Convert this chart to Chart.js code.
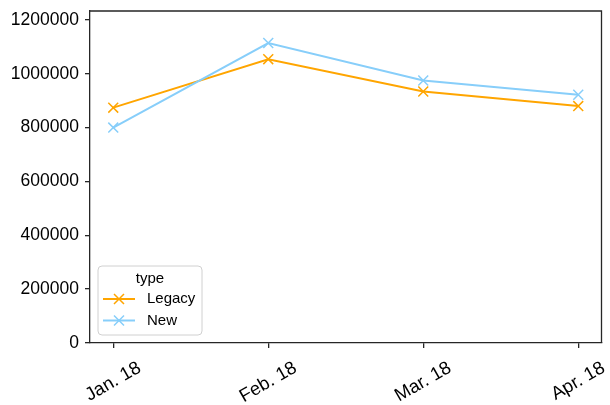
<!DOCTYPE html>
<html>
<head>
<meta charset="utf-8">
<script src="https://cdn.jsdelivr.net/npm/chart.js@4.4.1/dist/chart.umd.min.js"></script>
<style>
  html, body { margin: 0; padding: 0; background: #fff; }
  canvas { display: block; }
</style>
</head>
<body>
<canvas id="chart" width="610" height="405"></canvas>
<script>
// valeurs
const months = ['Jan. 18', 'Feb. 18', 'Mar. 18', 'Apr. 18'];
const legacy = [874000, 1054000, 934000, 880000];
const newType = [800000, 1114000, 975000, 922000];
const yTicks = [0, 200000, 400000, 600000, 800000, 1000000, 1200000];
const seriesNames = ['Legacy', 'New'];
const legendTitle = 'type';

const FONT = "'Liberation Sans', Arial, sans-serif";
const ORANGE = '#ffa500';
const BLUE = '#87cefa';
const SPINE = '#262626';

function toPoints(arr) {
    return arr.map(function(v, i) { return { x: i, y: v }; });
}

// cadre haut + droite (style matplotlib)
const framePlugin = {
    id: 'frame',
    afterDraw: function(chart) {
        const a = chart.chartArea;
        const ctx = chart.ctx;
        ctx.save();
        ctx.strokeStyle = SPINE;
        ctx.lineWidth = 1.3;
        ctx.beginPath();
        ctx.moveTo(a.left, a.top);
        ctx.lineTo(a.right, a.top);
        ctx.lineTo(a.right, a.bottom);
        ctx.stroke();
        ctx.restore();
    }
};

// étiquettes x tournées à 30°, centrées sur le tick
const xLabelPlugin = {
    id: 'xLabels',
    afterDraw: function(chart) {
        const ctx = chart.ctx;
        const xs = chart.scales.x;
        const size = 18.5;
        const ang = 30 * Math.PI / 180;
        ctx.save();
        ctx.font = size + 'px ' + FONT;
        ctx.fillStyle = '#000';
        ctx.textAlign = 'center';
        ctx.textBaseline = 'middle';
        months.forEach(function(label, i) {
            const w = ctx.measureText(label).width;
            const h = size * 0.95;
            const bh = w * Math.sin(ang) + h * Math.cos(ang);
            const cx = xs.getPixelForValue(i);
            const cy = chart.chartArea.bottom + 16 + bh / 2;
            ctx.save();
            ctx.translate(cx, cy);
            ctx.rotate(-ang);
            ctx.fillText(label, 0, 0);
            ctx.restore();
        });
        ctx.restore();
    }
};

function drawCross(ctx, x, y, r) {
    ctx.beginPath();
    ctx.moveTo(x - r, y - r); ctx.lineTo(x + r, y + r);
    ctx.moveTo(x - r, y + r); ctx.lineTo(x + r, y - r);
    ctx.stroke();
}

// légende dans le coin bas gauche
const legendPlugin = {
    id: 'legendBox',
    afterDraw: function(chart) {
        const ctx = chart.ctx;
        const a = chart.chartArea;
        const bw = 104, bh = 69;
        const bx = a.left + 8, by = a.bottom - 8 - bh;
        const r = 4;
        ctx.save();
        ctx.beginPath();
        ctx.moveTo(bx + r, by);
        ctx.arcTo(bx + bw, by, bx + bw, by + bh, r);
        ctx.arcTo(bx + bw, by + bh, bx, by + bh, r);
        ctx.arcTo(bx, by + bh, bx, by, r);
        ctx.arcTo(bx, by, bx + bw, by, r);
        ctx.closePath();
        ctx.fillStyle = 'rgba(255,255,255,0.8)';
        ctx.fill();
        ctx.strokeStyle = '#d0d0d0';
        ctx.lineWidth = 1;
        ctx.stroke();

        ctx.font = '15px ' + FONT;
        ctx.fillStyle = '#000';
        ctx.textBaseline = 'middle';
        ctx.textAlign = 'center';
        ctx.fillText(legendTitle, bx + bw / 2, by + 13);

        const colors = [ORANGE, BLUE];
        seriesNames.forEach(function(name, i) {
            const y = by + 33 + i * 21.5;
            ctx.strokeStyle = colors[i];
            ctx.lineWidth = 2;
            ctx.beginPath();
            ctx.moveTo(bx + 5, y);
            ctx.lineTo(bx + 37, y);
            ctx.stroke();
            ctx.lineWidth = 1.5;
            drawCross(ctx, bx + 21, y, 5);
            ctx.fillStyle = '#000';
            ctx.textAlign = 'left';
            ctx.fillText(name, bx + 49, y);
        });
        ctx.restore();
    }
};

const ctx = document.getElementById('chart').getContext('2d');
new Chart(ctx, {
    type: 'line',
    data: {
        datasets: [{
            label: seriesNames[0],
            data: toPoints(legacy),
            borderColor: ORANGE,
            backgroundColor: ORANGE,
            borderWidth: 2,
            pointStyle: 'crossRot',
            pointRadius: 7,
            pointBorderWidth: 1.5,
            tension: 0,
            order: 1
        }, {
            label: seriesNames[1],
            data: toPoints(newType),
            borderColor: BLUE,
            backgroundColor: BLUE,
            borderWidth: 2,
            pointStyle: 'crossRot',
            pointRadius: 7,
            pointBorderWidth: 1.5,
            tension: 0,
            order: 0
        }]
    },
    options: {
        responsive: false,
        animation: false,
        layout: { padding: { top: 11, right: 8, left: 0, bottom: 0 } },
        plugins: {
            legend: { display: false },
            tooltip: { enabled: false }
        },
        scales: {
            x: {
                type: 'linear',
                min: -0.15,
                max: 3.15,
                afterBuildTicks: function(scale) {
                    scale.ticks = months.map(function(m, i) { return { value: i }; });
                },
                afterFit: function(scale) {
                    scale.height = 62;
                    scale.paddingLeft = 0;
                    scale.paddingRight = 0;
                },
                grid: {
                    drawOnChartArea: false,
                    drawTicks: true,
                    tickLength: 5,
                    color: SPINE,
                    lineWidth: 1.3
                },
                border: { color: SPINE, width: 1.3 },
                ticks: { display: false }
            },
            y: {
                min: 0,
                max: 1233000,
                afterBuildTicks: function(scale) {
                    scale.ticks = yTicks.map(function(v) { return { value: v }; });
                },
                afterFit: function(scale) {
                    scale.width = 90;
                    scale.paddingTop = 0;
                    scale.paddingBottom = 0;
                },
                grid: {
                    drawOnChartArea: false,
                    drawTicks: true,
                    tickLength: 5,
                    color: SPINE,
                    lineWidth: 1.3
                },
                border: { color: SPINE, width: 1.3 },
                ticks: {
                    padding: 6,
                    color: '#000',
                    font: { family: FONT, size: 17.5 },
                    callback: function(value) { return String(value); }
                }
            }
        }
    },
    plugins: [framePlugin, xLabelPlugin, legendPlugin]
});
</script>
</body>
</html>
